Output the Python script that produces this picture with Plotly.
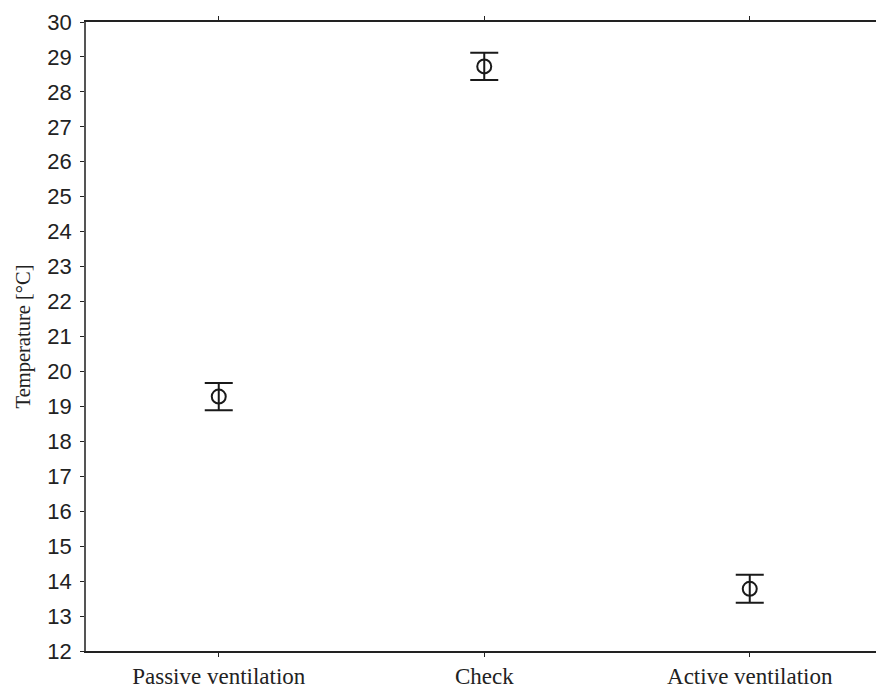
import plotly.graph_objects as go

categories = ["Passive ventilation", "Check", "Active ventilation"]
means = [19.28, 28.73, 13.78]
errors = [0.39, 0.39, 0.40]
y_ticks = list(range(12, 31))

fig = go.Figure()
fig.add_trace(go.Scatter(
    x=categories, y=means, mode="markers",
    marker=dict(symbol="circle-open", size=14, color="#1a1a1a", line=dict(width=2, color="#1a1a1a")),
    error_y=dict(type="data", array=errors, visible=True, thickness=2, width=14, color="#1a1a1a"),
    showlegend=False,
))

fig.update_layout(
    width=876, height=688,
    margin=dict(l=86, r=0, t=22, b=37),
    plot_bgcolor="white", paper_bgcolor="white",
    xaxis=dict(
        type="category", range=[-0.5, 2.4755], automargin=False,
        showline=True, linecolor="#222", linewidth=1.5, mirror="ticks",
        ticks="outside", ticklen=4, tickwidth=1, tickcolor="#222",
        showgrid=False, zeroline=False,
        tickfont=dict(family="Liberation Serif", size=23, color="#222"),
        ticklabelstandoff=0,
    ),
    yaxis=dict(
        range=[12, 30], tickvals=y_ticks, automargin=False,
        showline=True, linecolor="#555", linewidth=1.5,
        ticks="outside", ticklen=4, tickwidth=1, tickcolor="#222",
        showgrid=False, zeroline=False,
        tickfont=dict(family="Liberation Sans", size=22, color="#222"),
        ticklabelstandoff=4,
        title=dict(text="Temperature [°C]", font=dict(family="Liberation Serif", size=20.5, color="#222"), standoff=11),
    ),
)

fig.write_html(
    "out.html",
    config={"displayModeBar": False},
    post_script="document.body.style.margin='0';document.body.style.overflow='hidden';",
)
